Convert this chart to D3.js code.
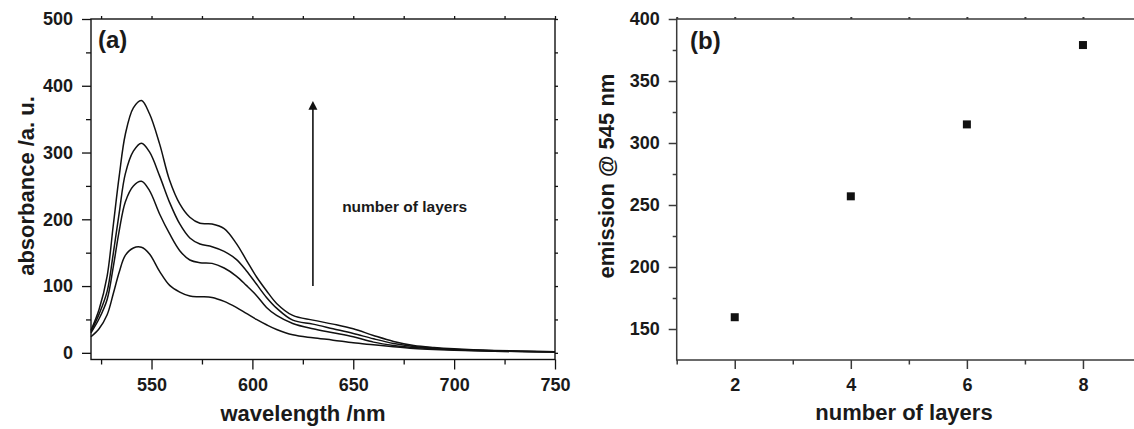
<!DOCTYPE html>
<html><head><meta charset="utf-8">
<script src="https://cdn.jsdelivr.net/npm/d3@7/dist/d3.min.js"></script>
<style>
html,body{margin:0;padding:0;background:#fff;}
svg{display:block;}
text{font-family:"Liberation Sans",Arial,sans-serif;font-weight:bold;fill:#1a1a1a;}
</style></head>
<body>
<svg id="chart" width="1134" height="429"></svg>
<script>
// ---------- data ----------
const wavelengths = [520,524,528,531,534,537,541,545,549,554,559,564,569,574,580,586,592,597,602,607,612,620,630,640,650,660,670,680,690,700,720,750];
const layers8 = [34,65,115,190,265,327,367,378,358,313,258,223,203,194,193,186,164,139,114,93,74,56,49,43,36,26,17,11,8,6,3.5,1.5];
const layers6 = [32,58,92,148,210,268,302,314,301,265,225,193,172,163,159,152,140,123,103,83,67,49,43,36,29,21,14,9.5,7,5,3,1.5];
const layers4 = [30,51,80,128,183,226,250,257,243,208,178,153,139,135,134,127,115,101,86,68,56,44,36,30,24,16,11,8,6,4.5,2.5,1.3];
const layers2 = [24,36,57,88,121,146,157,158,148,122,101,91,85,84,83,77,68,59,50,42,35,27,22.5,19,15,12,9,6.5,5,4,2.5,1.2];
const spectra = [layers8, layers6, layers4, layers2];

const layerCounts = [2,4,6,8];
const emission545 = [159.5,257,315,379];

const xTicksA = [550,600,650,700,750];
const xMinorA = [525,575,625,675,725];
const yTicksA = [0,100,200,300,400,500];
const yMinorA = [50,150,250,350,450];
const xTicksB = [2,4,6,8];
const xMinorB = [1,3,5,7];
const yTicksB = [150,200,250,300,350,400];
const yMinorB = [175,225,275,325,375];

// ---------- layout ----------
const svg = d3.select("#chart");
svg.append("rect").attr("width",1134).attr("height",429).attr("fill","#fff");

// ===== Panel (a) =====
const xA = d3.scaleLinear().domain([520,750]).range([91,555]);
const yA = d3.scaleLinear().domain([-10,500]).range([359.5,19]);
const gA = svg.append("g");
const colA = "#111";

function styleAxis(g, col, w){
  g.select(".domain").remove();
  g.selectAll("line").attr("stroke",col).attr("stroke-width",w);
  g.selectAll("text").attr("font-size",18).attr("fill","#1a1a1a")
   .attr("font-family","'Liberation Sans',Arial,sans-serif").attr("font-weight","bold");
}

gA.append("g").attr("transform","translate(91,0)")
  .call(d3.axisLeft(yA).tickValues(yTicksA).tickSize(9).tickPadding(9).tickFormat(d3.format("d")))
  .call(g=>styleAxis(g,colA,1.3));
gA.append("g").attr("transform","translate(91,0)")
  .call(d3.axisLeft(yA).tickValues(yMinorA).tickSize(5).tickFormat(""))
  .call(g=>styleAxis(g,colA,1.3));
gA.append("g").attr("transform","translate(0,359.5)")
  .call(d3.axisBottom(xA).tickValues(xTicksA).tickSize(10).tickPadding(9).tickFormat(d3.format("d")))
  .call(g=>styleAxis(g,colA,1.3));
gA.append("g").attr("transform","translate(0,359.5)")
  .call(d3.axisBottom(xA).tickValues(xMinorA).tickSize(5).tickFormat(""))
  .call(g=>styleAxis(g,colA,1.3));
// top & right small ticks
gA.append("g").attr("transform","translate(0,19)")
  .call(d3.axisTop(xA).tickValues(xTicksA.concat(xMinorA)).tickSize(3).tickFormat(""))
  .call(g=>styleAxis(g,colA,1.3));
gA.append("g").attr("transform","translate(555,0)")
  .call(d3.axisRight(yA).tickValues(yTicksA.concat(yMinorA)).tickSize(3).tickFormat(""))
  .call(g=>styleAxis(g,colA,1.3));
// frame
gA.append("rect").attr("x",91).attr("y",19).attr("width",555-91).attr("height",359.5-19)
  .attr("fill","none").attr("stroke",colA).attr("stroke-width",1.4);

// curves
const lineA = d3.line().x((d,i)=>xA(wavelengths[i])).y(d=>yA(d)).curve(d3.curveCatmullRom.alpha(0.5));
gA.append("g").selectAll("path").data(spectra).join("path")
  .attr("d",lineA).attr("fill","none").attr("stroke","#111").attr("stroke-width",1.5);

// arrow + annotation
const ax = xA(630);
gA.append("line").attr("x1",ax).attr("x2",ax).attr("y1",yA(100)).attr("y2",yA(368))
  .attr("stroke","#111").attr("stroke-width",1.6);
gA.append("path").attr("d",`M${ax},${yA(377)} L${ax-4.5},${yA(364)} L${ax+4.5},${yA(364)} Z`).attr("fill","#111");
gA.append("text").attr("x",xA(644.5)).attr("y",yA(211)).attr("font-size",15.5).text("number of layers");

gA.append("text").attr("x",98).attr("y",48).attr("font-size",24)
  .attr("font-family","'Liberation Serif','Times New Roman',serif").text("(a)");

gA.append("text").attr("x",303).attr("y",421).attr("text-anchor","middle").attr("font-size",22).text("wavelength /nm");
gA.append("text").attr("transform","translate(34,186) rotate(-90)").attr("text-anchor","middle")
  .attr("font-size",22).text("absorbance /a. u.");

// ===== Panel (b) =====
const xB = d3.scaleLinear().domain([1,9]).range([676.7,1141]);
const yB = d3.scaleLinear().domain([125,400]).range([360,19]);
const gB = svg.append("g");
const colB = "#3a3a3a";

gB.append("g").attr("transform","translate(676.7,0)")
  .call(d3.axisLeft(yB).tickValues(yTicksB).tickSize(8).tickPadding(9).tickFormat(d3.format("d")))
  .call(g=>styleAxis(g,colB,1.5));
gB.append("g").attr("transform","translate(676.7,0)")
  .call(d3.axisLeft(yB).tickValues(yMinorB).tickSize(4).tickFormat(""))
  .call(g=>styleAxis(g,colB,1.5));
gB.append("g").attr("transform","translate(0,360)")
  .call(d3.axisBottom(xB).tickValues(xTicksB).tickSize(9).tickPadding(9).tickFormat(d3.format("d")))
  .call(g=>styleAxis(g,colB,1.5));
gB.append("g").attr("transform","translate(0,360)")
  .call(d3.axisBottom(xB).tickValues(xMinorB).tickSize(4.5).tickFormat(""))
  .call(g=>styleAxis(g,colB,1.5));
gB.append("g").attr("transform","translate(0,19)")
  .call(d3.axisTop(xB).tickValues(xTicksB.concat(xMinorB)).tickSize(2).tickFormat(""))
  .call(g=>styleAxis(g,colB,2));
gB.append("rect").attr("x",676.7).attr("y",19).attr("width",1141-676.7).attr("height",360-19)
  .attr("fill","none").attr("stroke",colB).attr("stroke-width",1.5);

gB.append("g").selectAll("rect.pt").data(layerCounts).join("rect").attr("class","pt")
  .attr("x",(d)=>xB(d)-4).attr("y",(d,i)=>yB(emission545[i])-4)
  .attr("width",8).attr("height",8).attr("fill","#111");

gB.append("text").attr("x",690).attr("y",49).attr("font-size",24)
  .attr("font-family","'Liberation Serif','Times New Roman',serif").text("(b)");
gB.append("text").attr("x",904).attr("y",420).attr("text-anchor","middle").attr("font-size",22).text("number of layers");
gB.append("text").attr("transform","translate(614,176) rotate(-90)").attr("text-anchor","middle")
  .attr("font-size",22).text("emission @ 545 nm");
</script>
</body></html>
